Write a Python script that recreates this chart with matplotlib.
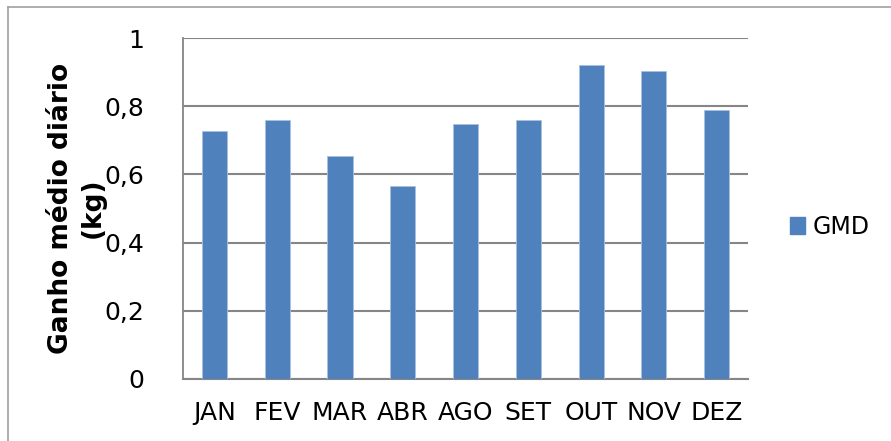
import matplotlib
matplotlib.use("Agg")
import matplotlib.pyplot as plt
from matplotlib.lines import Line2D
from matplotlib.patches import Patch

months = ["JAN", "FEV", "MAR", "ABR", "AGO", "SET", "OUT", "NOV", "DEZ"]
gmd = [0.727, 0.759, 0.653, 0.567, 0.747, 0.759, 0.922, 0.903, 0.788]
yticks = [0, 0.2, 0.4, 0.6, 0.8, 1.0]
ytick_labels = ["0", "0,2", "0,4", "0,6", "0,8", "1"]

BLUE = "#4F81BD"
GRID = "#868686"

plt.rcParams["font.family"] = ["DejaVu Sans"]

fig = plt.figure(figsize=(8.91, 4.41), dpi=100)
ax = fig.add_axes([183 / 891, 1 - 379 / 441, (748 - 183) / 891, (379 - 38) / 441])

x = range(len(months))
ax.bar(x, gmd, width=0.4, color=BLUE, edgecolor="#a9c1e0", linewidth=0.6, zorder=3, label="GMD")

ax.set_xlim(-0.5, len(months) - 0.5)
ax.set_ylim(0, 1)
ax.set_yticks(yticks)
ax.set_yticklabels(ytick_labels)
ax.set_xticks(list(x))
ax.set_xticklabels(months)
ax.tick_params(axis="both", length=0, labelsize=18, colors="black")
ax.tick_params(axis="y", pad=28)
ax.tick_params(axis="x", pad=16)

ax.yaxis.grid(True, color=GRID, linewidth=1.5, zorder=0)
for s in ["top", "right"]:
    ax.spines[s].set_visible(False)
ax.spines["left"].set_color(GRID)
ax.spines["bottom"].set_color(GRID)
ax.spines["left"].set_linewidth(1.3)
ax.spines["bottom"].set_linewidth(1.5)

fig.text(76.5 / 891, 1 - 208 / 441, "Ganho médio diário\n(kg)", rotation=90,
         ha="center", va="center", multialignment="center",
         fontsize=19, fontweight="bold", linespacing=1.28)

leg = fig.legend(handles=[Patch(color=BLUE, label="GMD")],
                 loc="center left", bbox_to_anchor=(790 / 891, 1 - 227 / 441),
                 frameon=False, fontsize=17, handlelength=0.65, handleheight=0.75,
                 handletextpad=0.3, borderaxespad=0, borderpad=0)

# outer chart border
fig.add_artist(Line2D([8 / 891, 8 / 891], [0, 1 - 7 / 441], transform=fig.transFigure,
                      color="#a0a0a0", linewidth=1.2))
fig.add_artist(Line2D([8 / 891, 1], [1 - 7 / 441, 1 - 7 / 441], transform=fig.transFigure,
                      color="#a0a0a0", linewidth=1.2))

fig.savefig("out.png", dpi=100)
